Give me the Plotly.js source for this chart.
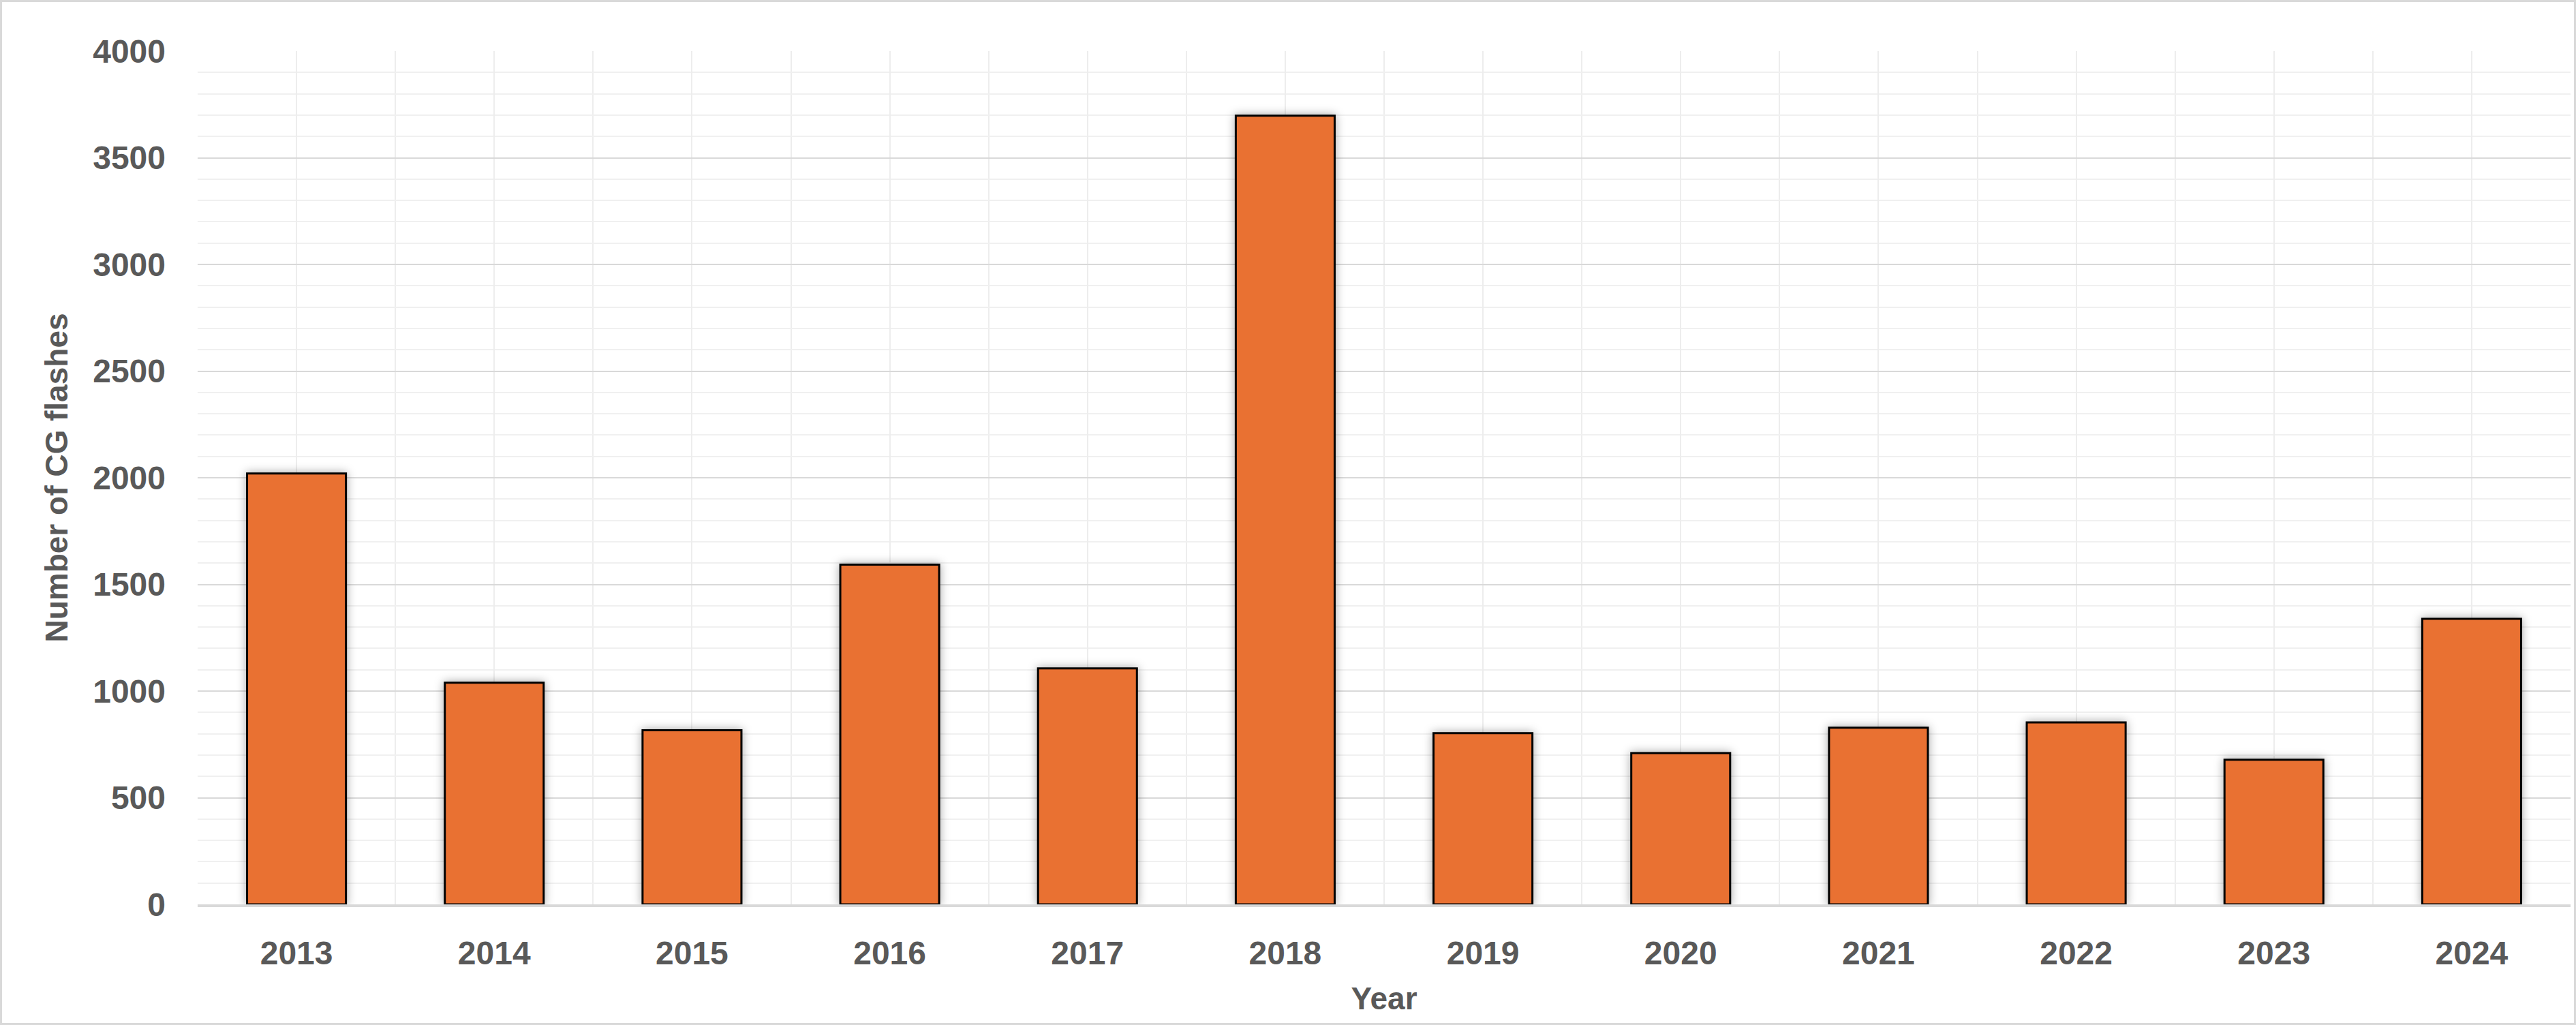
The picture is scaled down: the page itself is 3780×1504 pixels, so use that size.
<!DOCTYPE html>
<html>
<head>
<meta charset="utf-8">
<script src="https://cdn.plot.ly/plotly-3.0.1.min.js"></script>
<style>
  html, body { margin: 0; padding: 0; background: #ffffff; }
  #frame { position: absolute; left: 0; top: 0; width: 3780px; height: 1504px; box-sizing: border-box; border: 3px solid #D9D9D9; background: #fff; }
  #chart { width: 3774px; height: 1498px; }
  .js-plotly-plot .barlayer .point path { filter: drop-shadow(0px 0px 7px rgba(0,0,0,0.35)); }
</style>
</head>
<body>
<div id="frame"><div id="chart"></div></div>
<script>
// Data
const years = ['2013', '2014', '2015', '2016', '2017', '2018', '2019', '2020', '2021', '2022', '2023', '2024'];
const cgFlashes = [2020, 1039, 816, 1593, 1106, 3697, 803, 709, 828, 853, 678, 1339];
const yTickVals = [0, 500, 1000, 1500, 2000, 2500, 3000, 3500, 4000];
const xTitle = 'Year';
const yTitle = 'Number of CG flashes';

const xNum = years.map(Number);
const boundaries = xNum.map(v => v - 0.5).concat([xNum[xNum.length - 1] + 0.5]);

const fontFamily = '"Liberation Sans", Arial, "DejaVu Sans", sans-serif';
const textColor = '#595959';

const trace = {
  type: 'bar',
  x: xNum,
  y: cgFlashes,
  marker: { color: '#E97132', line: { color: '#000000', width: 3 } },
  width: 0.5,
  hoverinfo: 'x+y'
};

const layout = {
  width: 3774,
  height: 1498,
  margin: { l: 287, r: 5, t: 72, b: 174 },
  paper_bgcolor: '#ffffff',
  plot_bgcolor: '#ffffff',
  showlegend: false,
  font: { family: fontFamily, color: textColor, size: 48, weight: 'bold' },
  xaxis: {
    range: [xNum[0] - 0.5, xNum[xNum.length - 1] + 0.5],
    tickmode: 'array',
    tickvals: xNum,
    ticktext: years,
    ticks: '',
    ticklabelstandoff: 26,
    tickfont: { family: fontFamily, color: textColor, size: 48, weight: 'bold' },
    showgrid: true,
    gridcolor: '#EDEDED',
    gridwidth: 2,
    minor: { tickmode: 'array', tickvals: boundaries, showgrid: true, gridcolor: '#EDEDED', gridwidth: 2, ticks: '' },
    showline: true,
    linecolor: '#D9D9D9',
    linewidth: 4,
    zeroline: false,
    title: { text: xTitle, font: { family: fontFamily, color: textColor, size: 46, weight: 'bold' }, standoff: 26 },
    fixedrange: true
  },
  yaxis: {
    range: [0, 4000],
    tickmode: 'array',
    tickvals: yTickVals,
    ticks: '',
    ticklabelstandoff: 46,
    tickfont: { family: fontFamily, color: textColor, size: 48, weight: 'bold' },
    showgrid: true,
    gridcolor: '#D9D9D9',
    gridwidth: 2,
    minor: { dtick: 100, tick0: 0, showgrid: true, gridcolor: '#F0F0F0', gridwidth: 2, ticks: '' },
    showline: false,
    zeroline: false,
    title: { text: yTitle, font: { family: fontFamily, color: textColor, size: 46, weight: 'bold' }, standoff: 22 },
    fixedrange: true
  },
  bargap: 0.5
};

Plotly.newPlot('chart', [trace], layout, { displayModeBar: false, staticPlot: true });
</script>
</body>
</html>
